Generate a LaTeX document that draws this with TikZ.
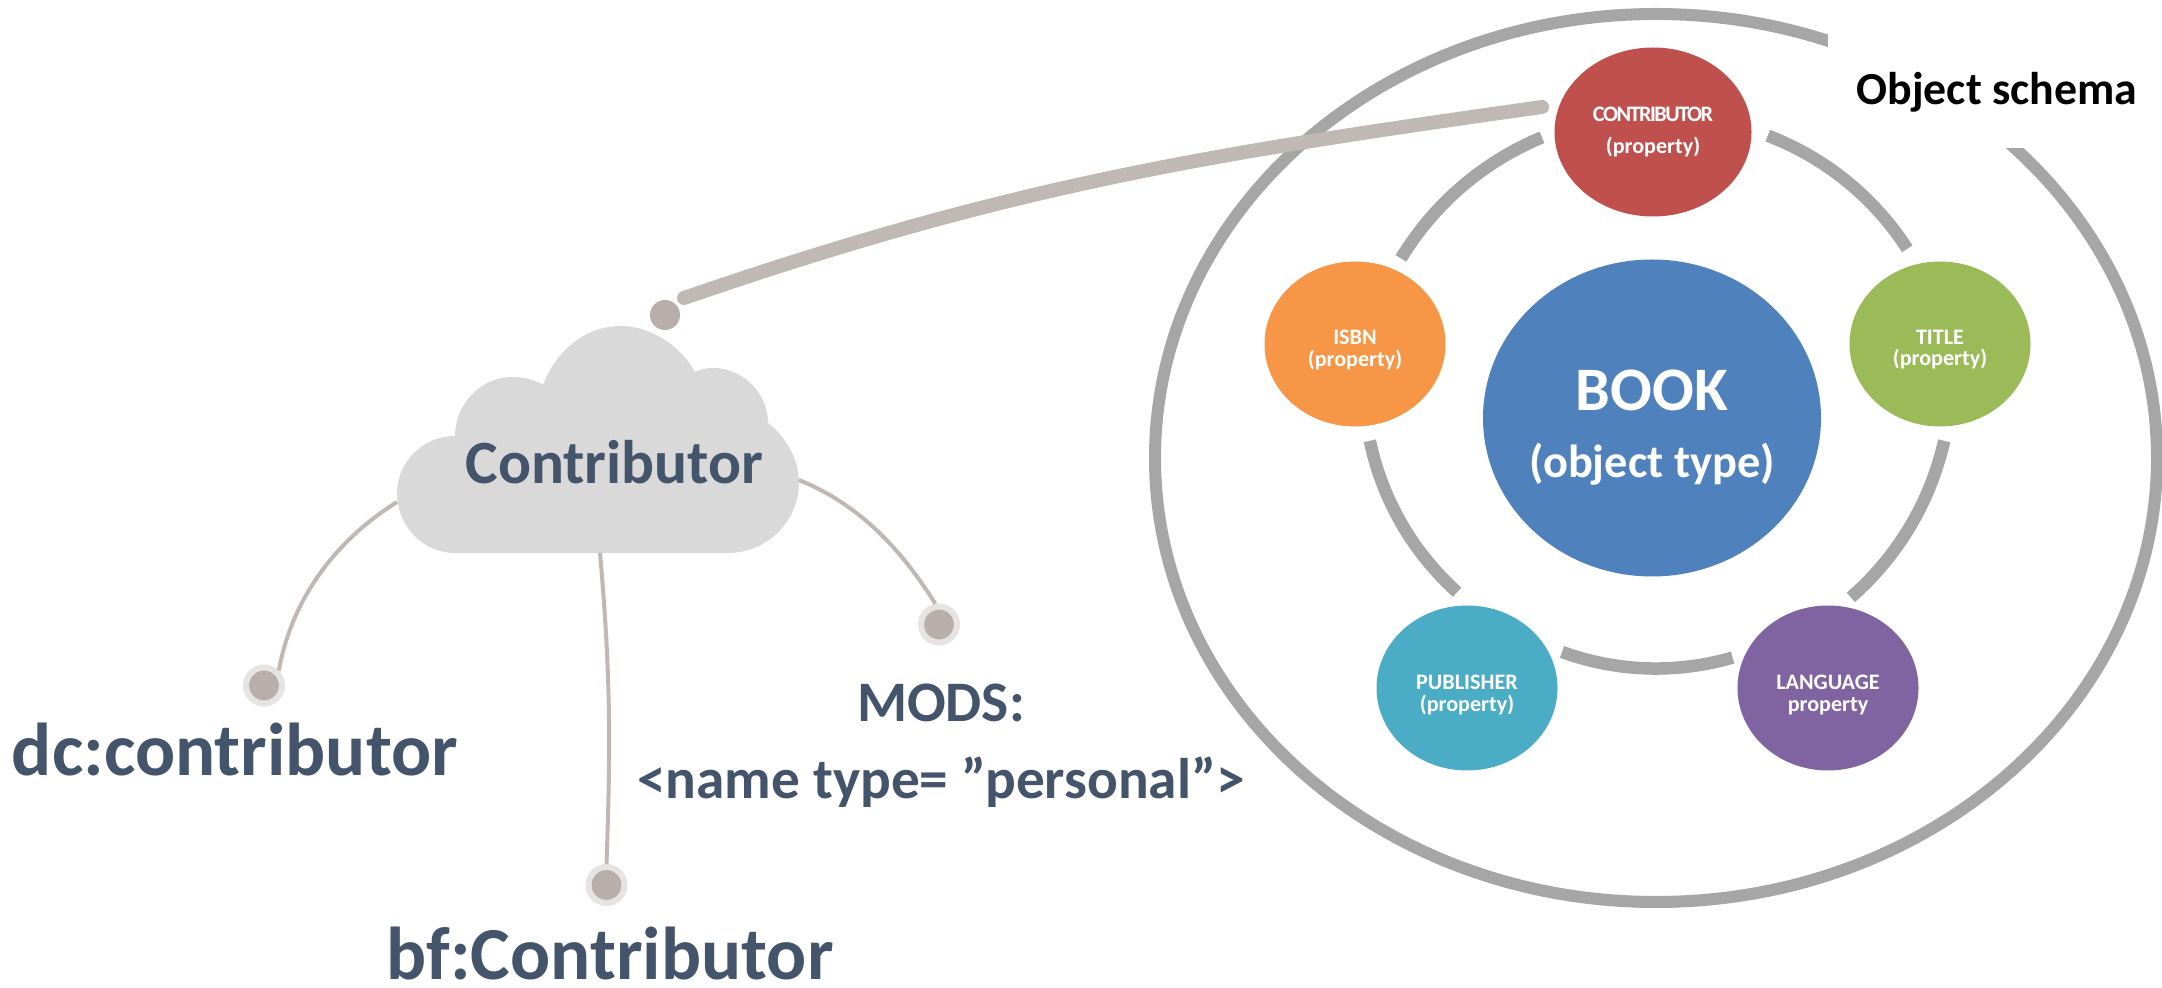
\documentclass[tikz,border=0pt]{standalone}
\usepackage{fontspec}
\setmainfont{Carlito}
\newfontface\tightbold{Carlito Bold}[LetterSpace=-6.8]
\usetikzlibrary{shapes.geometric, calc}
\definecolor{slate}{HTML}{44546A}
\definecolor{ringgray}{HTML}{A6A6A6}
\definecolor{linkgray}{HTML}{BFB8B5}
\definecolor{dotgray}{HTML}{B8AFAD}
\definecolor{halogray}{HTML}{E7E3E2}
\definecolor{cloudgray}{HTML}{D9D9D9}
\definecolor{bookblue}{HTML}{4F81BD}
\definecolor{contribred}{HTML}{C0504D}
\definecolor{isbnorange}{HTML}{F79646}
\definecolor{titlegreen}{HTML}{9BBB59}
\definecolor{pubteal}{HTML}{4BACC6}
\definecolor{langpurple}{HTML}{8064A2}
\tikzset{
    prop/.style={ellipse, inner sep=0pt, minimum width=1.81cm, minimum height=1.65cm},
    proptext/.style={inner sep=0pt, text=white, align=center, font=\fontsize{6.3}{6}\selectfont\bfseries},
    ringline/.style={draw=ringgray, line width=0.125cm, bend left=18, looseness=0.88},
    dot/.style={circle, inner sep=0pt, minimum size=0.36cm, fill=dotgray, draw=halogray, line width=0.06cm},
    wire/.style={draw=linkgray, line width=0.04cm},
    term/.style={anchor=base, inner sep=0pt, text=slate, font=\fontsize{21.3}{24}\selectfont\bfseries},
    mods/.style={anchor=base, inner sep=0pt, text=slate, font=\fontsize{16.3}{18}\selectfont\bfseries}
}

\begin{document}
\begin{tikzpicture}
    \useasboundingbox (0, 0) rectangle (21.62, -9.88);

    \draw[ringgray, line width=0.12cm] (16.56, -4.58) ellipse (5.01cm and 4.44cm);
    \fill[white] (18.28, 0.1) rectangle (21.72, -1.48);
    \node[anchor=base, inner sep=0pt, font=\fontsize{13.05}{14}\selectfont\bfseries] (schema) at (19.97, -1.05) {Object schema};

    \coordinate (ringc) at (16.57, -3.91);
    \foreach \name/\ang in {ca/67.7, ta/31, tb/-10.4, la/-48.4, lb/-75, pa/-109, pb/226.8, ia/190.4, ib/151.3, cb/113.2}
        \coordinate (\name) at ($(ringc)+(\ang:2.92cm and 2.76cm)$);
    \draw[ringline] (ca) to (ta);
    \draw[ringline] (tb) to (la);
    \draw[ringline] (lb) to (pa);
    \draw[ringline] (pb) to (ia);
    \draw[ringline] (ib) to (cb);

    \node[ellipse, inner sep=0pt, minimum width=3.38cm, minimum height=3.17cm, fill=bookblue] (book) at (16.52, -4.18) {};
    \node[proptext, font=\bfseries] (booktext) at ([yshift=-0.1cm]book) {\fontsize{17.6}{18.7}\selectfont BOOK\\[7pt]\fontsize{13.2}{18.7}\selectfont (object type)};
    \node[prop, fill=contribred, minimum width=1.97cm, minimum height=1.69cm] (contrib) at (16.53, -1.32) {};
    \node[proptext, font=\fontsize{6.3}{9}\selectfont\bfseries] (contribtext) at (contrib) {{\tightbold CONTRIBUTOR}\\(property)};
    \node[prop, fill=isbnorange] (isbn) at (13.55, -3.44) {};
    \node[proptext] (isbntext) at ([yshift=-0.06cm]isbn) {ISBN\\(property)};
    \node[prop, fill=titlegreen] (title) at (19.40, -3.44) {};
    \node[proptext] (titletext) at ([yshift=-0.06cm]title) {TITLE\\(property)};
    \node[prop, fill=pubteal] (publisher) at (14.67, -6.88) {};
    \node[proptext] (pubtext) at ([yshift=-0.07cm]publisher) {PUBLISHER\\(property)};
    \node[prop, fill=langpurple] (language) at (18.28, -6.88) {};
    \node[proptext] (langtext) at ([yshift=-0.07cm]language) {LANGUAGE\\property};

    \fill[cloudgray] (4.55, -5.53)
        .. controls (4.23, -5.53) and (3.97, -5.26) .. (3.97, -4.93)
        .. controls (3.97, -4.62) and (4.23, -4.36) .. (4.55, -4.36)
        .. controls (4.55, -4.04) and (4.81, -3.77) .. (5.12, -3.77)
        .. controls (5.24, -3.77) and (5.35, -3.80) .. (5.43, -3.85)
        .. controls (5.55, -3.52) and (5.85, -3.26) .. (6.205, -3.26)
        .. controls (6.50, -3.26) and (6.80, -3.45) .. (6.95, -3.72)
        .. controls (7.01, -3.69) and (7.07, -3.68) .. (7.13, -3.68)
        .. controls (7.43, -3.68) and (7.68, -3.93) .. (7.68, -4.23)
        .. controls (7.87, -4.38) and (7.99, -4.60) .. (7.99, -4.83)
        .. controls (7.99, -5.20) and (7.68, -5.53) .. (7.28, -5.53)
        -- cycle;
    \node[anchor=base, inner sep=0pt, text=slate, font=\fontsize{17.5}{20}\selectfont\bfseries] (cloud) at (6.145, -4.84) {Contributor};

    \node[dot] (dcdot) at (2.64, -6.855) {};
    \node[dot] (bfdot) at (6.065, -8.85) {};
    \node[dot] (modsdot) at (9.39, -6.245) {};
    \node[circle, inner sep=0pt, minimum size=0.30cm, fill=dotgray] (bookdot) at (6.65, -3.15) {};

    \coordinate (cloudl) at (3.97, -5.02);
    \coordinate (cloudb) at (6.00, -5.53);
    \coordinate (cloudr) at (7.99, -4.80);
    \coordinate (linka) at (6.84, -2.98);
    \coordinate (linkb) at (15.42, -1.07);
    \draw[wire] (cloudl) to[out=212, in=80, looseness=0.9] (dcdot.45);
    \draw[wire] (cloudb) to[out=-85, in=88] (bfdot.north);
    \draw[wire] (cloudr) to[out=-22, in=122, looseness=0.9] (modsdot.100);
    \draw[linkgray, line width=0.14cm, line cap=round] (linka) to[out=19, in=188] (linkb);

    \node[term] (dc) at (2.35, -7.75) {dc:contributor};
    \node[term] (bf) at (6.10, -9.79) {bf:Contributor};
    \node[mods] (modsa) at (9.41, -7.22) {MODS:};
    \node[mods] (modsb) at (9.41, -7.99) {<name type= ”personal”>};
\end{tikzpicture}
\end{document}
